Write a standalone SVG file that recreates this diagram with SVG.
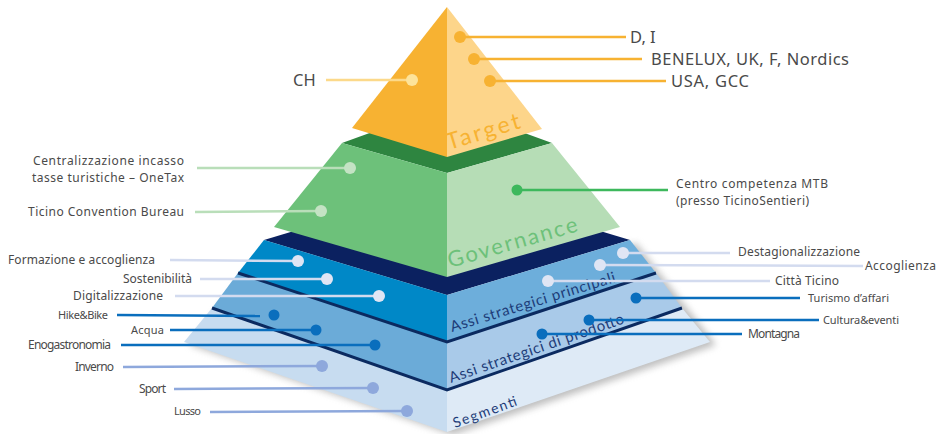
<svg xmlns="http://www.w3.org/2000/svg" width="944" height="434" viewBox="0 0 944 434">
<defs>
<filter id="sh" x="-20%" y="-20%" width="140%" height="140%"><feGaussianBlur stdDeviation="3.5"/></filter>
<style>
.lbl{font-family:"Noto Sans","Lato",sans-serif;fill:#4a4a4a}
.big{font-size:16.5px}
.mid{font-size:12px}
.sm{font-size:12px}
.xs{font-size:11px}
.face{font-family:"Lato","Noto Sans",sans-serif}
.sep{fill:none;stroke:#0b2a60;stroke-width:3;stroke-linejoin:miter}
.c{fill:none;stroke-width:2.5}
.or{stroke:#f7b232}
.orl{stroke:#fcd98a}
.gl{stroke:#b9deb9}
.gd{stroke:#3db85c}
.bl{stroke:#d3dbef}
.bd{stroke:#0a6ebd}
.bs{stroke:#8ea8dc}
</style>
</defs>
<rect width="944" height="434" fill="#ffffff"/>

<!-- shadow -->
<polygon points="264,240 447,295 630,240 710,342 447,432 184,342" fill="#8a8a8a" opacity="0.55" transform="translate(6,3)" filter="url(#sh)"/>

<g id="layer-base">
<polygon points="264,240 447,185 630,240 447,295" fill="#0b2160"/>
<polygon points="264,240 447,295 447,342 238,273" fill="#0088c7"/>
<polygon points="238,273 447,342 447,390 212,308" fill="#6babd8"/>
<polygon points="212,308 447,390 447,432 184,342" fill="#c7dcf0"/>
<polygon points="447,295 630,240 656,273 447,342" fill="#6daedb"/>
<polygon points="447,342 656,273 682,308 447,390" fill="#a9cae9"/>
<polygon points="447,390 682,308 710,342 447,432" fill="#deeaf6"/>
<polyline class="sep" points="238,273 447,342 656,273"/>
<polyline class="sep" points="212,308 447,390 682,308"/>
<text class="face" x="452" y="332" font-size="15" fill="#1d3c78" transform="rotate(-17 452 332)" textLength="172">Assi strategici principali</text>
<text class="face" x="451" y="383" font-size="15" fill="#1d3c78" transform="rotate(-19 451 383)" textLength="184">Assi strategici di prodotto</text>
<text class="face" x="455" y="428" font-size="14" fill="#1d3c78" transform="rotate(-20 455 428)" textLength="67">Segmenti</text>
</g>

<g id="layer-governance">
<polygon points="342,143 447,105 552,143 447,173" fill="#2e8540"/>
<polygon points="342,143 447,173 447,277 274,227" fill="#6dc17a"/>
<polygon points="447,173 552,143 620,227 447,277" fill="#b6ddb6"/>
<text class="face" x="450" y="268" font-size="22" fill="#6dc17a" transform="rotate(-16 450 268)" textLength="134">Governance</text>
</g>

<g id="layer-target">
<polygon points="447,7 352,128 447,157" fill="#f7b232"/>
<polygon points="447,7 447,157 542,129" fill="#fdd58a"/>
<text class="face" x="449" y="150" font-size="23" fill="#f7b232" transform="rotate(-17 449 150)" textLength="76">Target</text>
</g>

<g id="connectors">
<line class="c or" x1="460" y1="37" x2="626" y2="37"/>
<line class="c or" x1="474" y1="59" x2="642" y2="59"/>
<line class="c or" x1="490" y1="81" x2="666" y2="81"/>
<line class="c orl" x1="326" y1="80" x2="412" y2="80"/>
<line class="c gl" x1="197" y1="168" x2="350" y2="168"/>
<line class="c gl" x1="195" y1="212" x2="321" y2="211"/>
<line class="c gd" x1="517" y1="190" x2="668" y2="190"/>
<line class="c bl" x1="170" y1="260" x2="298" y2="261"/>
<line class="c bl" x1="200" y1="279" x2="327" y2="279"/>
<line class="c bl" x1="175" y1="296" x2="379" y2="296"/>
<line class="c bd" x1="117" y1="315" x2="260" y2="316"/>
<line class="c bd" x1="170" y1="330" x2="316" y2="330"/>
<line class="c bd" x1="121" y1="345" x2="375" y2="345"/>
<line class="c bs" x1="123" y1="367" x2="322" y2="366"/>
<line class="c bs" x1="174" y1="389" x2="373" y2="388"/>
<line class="c bs" x1="210" y1="412" x2="407" y2="411"/>
<line class="c bl" x1="623" y1="253" x2="730" y2="253"/>
<line class="c bl" x1="600" y1="265" x2="863" y2="266"/>
<line class="c bl" x1="548" y1="281" x2="770" y2="281"/>
<line class="c bd" x1="636" y1="298" x2="800" y2="298"/>
<line class="c bd" x1="589" y1="320" x2="819" y2="320"/>
<line class="c bd" x1="542" y1="334" x2="742" y2="334"/>
</g>

<g id="n-di"><circle cx="460" cy="37" r="6" fill="#f7b232"/><text class="lbl big" x="630" y="43">D, I</text></g>
<g id="n-benelux"><circle cx="474" cy="59" r="6" fill="#f7b232"/><text class="lbl big" x="651" y="65" textLength="198">BENELUX, UK, F, Nordics</text></g>
<g id="n-usa"><circle cx="490" cy="81" r="6" fill="#f7b232"/><text class="lbl big" x="671" y="87" textLength="78">USA, GCC</text></g>
<g id="n-ch"><circle cx="412" cy="80" r="6" fill="#fde39a"/><text class="lbl big" x="293" y="86">CH</text></g>

<g id="n-onetax"><circle cx="350" cy="168" r="6" fill="#c4e3c4"/><text class="lbl mid" x="33" y="165" textLength="151">Centralizzazione incasso</text><text class="lbl mid" x="32" y="182" textLength="152">tasse turistiche – OneTax</text></g>
<g id="n-tcb"><circle cx="321" cy="211" r="6" fill="#c4e3c4"/><text class="lbl mid" x="28" y="216" textLength="156">Ticino Convention Bureau</text></g>
<g id="n-mtb"><circle cx="517" cy="190" r="5.5" fill="#3db85c"/><text class="lbl mid" x="676" y="188" textLength="152">Centro competenza MTB</text><text class="lbl mid" x="676" y="205" textLength="133">(presso TicinoSentieri)</text></g>

<g id="n-formazione"><circle cx="298" cy="261" r="6" fill="#dfe5f4"/><text class="lbl sm" x="8" y="264" textLength="147">Formazione e accoglienza</text></g>
<g id="n-sostenibilita"><circle cx="327" cy="279" r="6" fill="#dfe5f4"/><text class="lbl sm" x="123" y="283" textLength="69">Sostenibilità</text></g>
<g id="n-digitalizzazione"><circle cx="379" cy="296" r="6" fill="#dfe5f4"/><text class="lbl sm" x="73" y="300" textLength="90">Digitalizzazione</text></g>
<g id="n-hikebike"><circle cx="274" cy="315" r="5.5" fill="#0a6ebd"/><text class="lbl xs" x="58" y="319" textLength="50">Hike&amp;Bike</text></g>
<g id="n-acqua"><circle cx="316" cy="330" r="5.5" fill="#0a6ebd"/><text class="lbl xs" x="131" y="334" textLength="33">Acqua</text></g>
<g id="n-enogastronomia"><circle cx="375" cy="345" r="5.5" fill="#0a6ebd"/><text class="lbl sm" x="28" y="349" textLength="83">Enogastronomia</text></g>
<g id="n-inverno"><circle cx="322" cy="366" r="6" fill="#8ea8dc"/><text class="lbl sm" x="75" y="371" textLength="39">Inverno</text></g>
<g id="n-sport"><circle cx="373" cy="388" r="6" fill="#8ea8dc"/><text class="lbl sm" x="139" y="393" textLength="27">Sport</text></g>
<g id="n-lusso"><circle cx="407" cy="411" r="6" fill="#8ea8dc"/><text class="lbl xs" x="174" y="415" textLength="27">Lusso</text></g>

<g id="n-destagionalizzazione"><circle cx="623" cy="253" r="6" fill="#dfe5f4"/><text class="lbl sm" x="738" y="256" textLength="122">Destagionalizzazione</text></g>
<g id="n-accoglienza"><circle cx="600" cy="265" r="6" fill="#dfe5f4"/><text class="lbl sm" x="865" y="270" textLength="71">Accoglienza</text></g>
<g id="n-citta"><circle cx="548" cy="281" r="6" fill="#dfe5f4"/><text class="lbl sm" x="775" y="285" textLength="64">Città Ticino</text></g>
<g id="n-turismo"><circle cx="636" cy="298" r="5.5" fill="#0a6ebd"/><text class="lbl xs" x="808" y="302" textLength="81">Turismo d’affari</text></g>
<g id="n-cultura"><circle cx="589" cy="320" r="5.5" fill="#0a6ebd"/><text class="lbl xs" x="823" y="324" textLength="76">Cultura&amp;eventi</text></g>
<g id="n-montagna"><circle cx="542" cy="334" r="5.5" fill="#0a6ebd"/><text class="lbl sm" x="748" y="338" textLength="52">Montagna</text></g>
</svg>
